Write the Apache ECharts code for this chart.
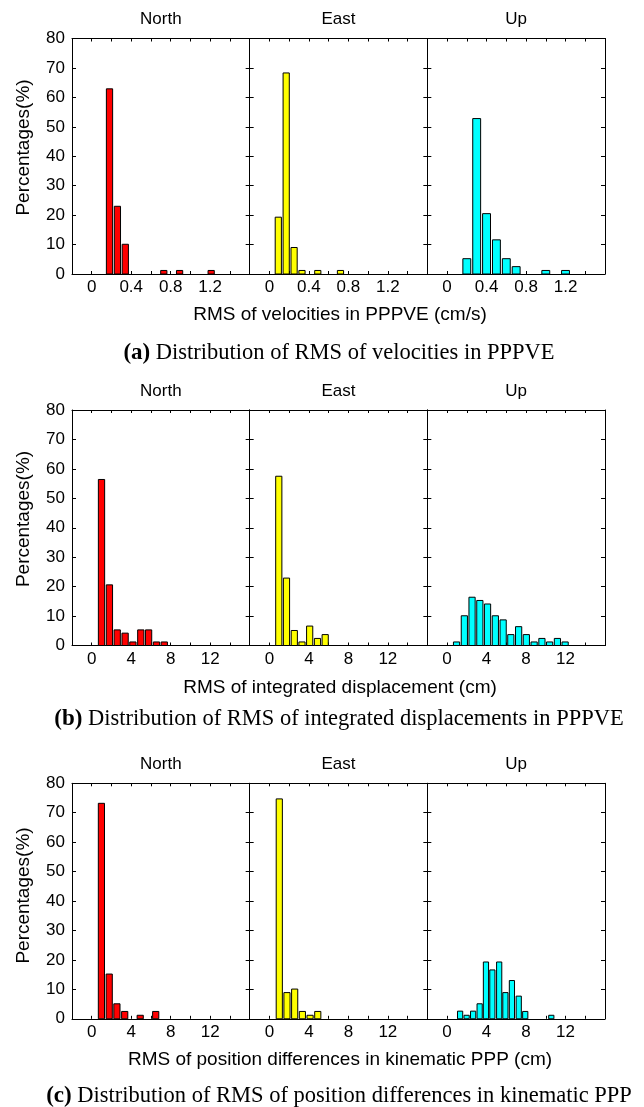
<!DOCTYPE html>
<html>
<head>
<meta charset="utf-8">
<script src="https://cdn.jsdelivr.net/npm/echarts@6/dist/echarts.min.js"></script>
<style>
  html, body { margin: 0; padding: 0; background: #fff; }
  #chart { width: 644px; height: 1107px; }
</style>
</head>
<body>
<div id="chart"></div>
<script>
// Histogram bins: [bin centre, percentage of stations]
// (a) RMS of velocities in PPPVE (cm/s)
const velNorth = [[0.18, 62.9], [0.26, 23.0], [0.34, 10.1], [0.73, 1.2], [0.89, 1.2], [1.21, 1.2]];
const velEast  = [[0.09, 19.3], [0.17, 68.3], [0.25, 9.0], [0.33, 1.2], [0.49, 1.2], [0.72, 1.2]];
const velUp    = [[0.2, 5.2], [0.3, 52.8], [0.4, 20.5], [0.5, 11.6], [0.6, 5.2], [0.7, 2.5], [1.0, 1.2], [1.2, 1.2]];

// (b) RMS of integrated displacement (cm)
const dispNorth = [[0.99, 56.4], [1.79, 20.6], [2.58, 5.3], [3.38, 4.2], [4.17, 1.2], [4.97, 5.3], [5.76, 5.3], [6.56, 1.2], [7.35, 1.2]];
const dispEast  = [[0.95, 57.5], [1.73, 22.9], [2.52, 5.1], [3.30, 1.2], [4.08, 6.6], [4.87, 2.4], [5.65, 3.7]];
const dispUp    = [[0.96, 1.2], [1.75, 10.1], [2.53, 16.4], [3.32, 15.3], [4.10, 14.1], [4.89, 10.1], [5.68, 8.7], [6.46, 3.7],
                   [7.25, 6.4], [8.03, 3.7], [8.82, 1.2], [9.61, 2.4], [10.39, 1.2], [11.18, 2.4], [11.96, 1.2]];

// (c) RMS of position differences in kinematic PPP (cm)
const posNorth = [[0.98, 73.2], [1.77, 15.2], [2.55, 5.1], [3.34, 2.5], [4.91, 1.2], [6.48, 2.5]];
const posEast  = [[1.0, 74.7], [1.78, 8.9], [2.56, 10.1], [3.34, 2.5], [4.12, 1.2], [4.9, 2.5]];
const posUp    = [[1.32, 2.6], [1.98, 1.2], [2.64, 2.6], [3.30, 5.1], [3.94, 19.3], [4.59, 16.6], [5.28, 19.3], [5.91, 8.9],
                  [6.57, 13.0], [7.26, 7.7], [7.92, 2.5], [10.56, 1.2]];

// Bin width of each histogram (same units as the x axis)
const binWidths = [[0.079, 0.0785, 0.1], [0.795, 0.783, 0.786], [0.785, 0.78, 0.66]];

const components = ['North', 'East', 'Up'];
const yName = 'Percentages(%)';
const xNames = [
  'RMS of velocities in PPPVE (cm/s)',
  'RMS of integrated displacement (cm)',
  'RMS of position differences in kinematic PPP (cm)'
];
const captionTags = ['(a)', '(b)', '(c)'];
const captionTexts = [
  ' Distribution of RMS of velocities in PPPVE',
  ' Distribution of RMS of integrated displacements in PPPVE',
  ' Distribution of RMS of position differences in kinematic PPP'
];
const yTickLabels = ['0', '10', '20', '30', '40', '50', '60', '70', '80'];
const xTickLabelsVel = ['0', '0.4', '0.8', '1.2'];
const xTickLabelsCm = ['0', '4', '8', '12'];

const rowsData = [[velNorth, velEast, velUp], [dispNorth, dispEast, dispUp], [posNorth, posEast, posUp]];
const rowTickLabels = [xTickLabelsVel, xTickLabelsCm, xTickLabelsCm];

// ---- layout ----
const SANS = '"Liberation Sans", Arial, sans-serif';
const SERIF = '"Liberation Serif", "Times New Roman", serif';
const barColors = ['#ff0000', '#ffff00', '#00ffff'];
const panelLeft = [72, 249.67, 427.33];
const panelW = 177.67;
const panelH = 235.5;
const rowTop = [38.5, 410, 783.3];
const rowRange = [
  { min: -0.2, max: 1.6, interval: 0.2, digits: 1 },
  { min: -2, max: 16, interval: 2, digits: 0 },
  { min: -2, max: 16, interval: 2, digits: 0 }
];
const titleY = [19.3, 391.7, 764];
const yNameY = [147.5, 519, 895.5];
const xNameY = [315, 687.5, 1060];
const captionY = [353.5, 719, 1096];

const grid = [], xAxis = [], yAxis = [], series = [], graphic = [];

function barRenderer(binW, color) {
  return function (params, api) {
    const xc = api.value(0), v = api.value(1);
    const half = binW * 0.4;
    const p0 = api.coord([xc - half, v]);
    const p1 = api.coord([xc + half, 0]);
    return {
      type: 'rect',
      shape: { x: p0[0], y: p0[1], width: p1[0] - p0[0], height: p1[1] - p0[1] },
      style: { fill: color, stroke: '#000', lineWidth: 1 }
    };
  };
}

// frame lines stay on the grid edges rather than crossing at zero
const axisLineStyle = { show: true, onZero: false, lineStyle: { color: '#000', width: 1 } };

for (let r = 0; r < 3; r++) {
  const rng = rowRange[r];
  const labels = rowTickLabels[r];
  for (let c = 0; c < 3; c++) {
    const g = grid.length;
    grid.push({ left: panelLeft[c], top: rowTop[r], width: panelW, height: panelH, containLabel: false });

    // bottom axis with labels
    xAxis.push({
      type: 'value', gridIndex: g, position: 'bottom',
      min: rng.min, max: rng.max, interval: rng.interval,
      axisLine: axisLineStyle,
      axisTick: { show: true, inside: true, length: 3, lineStyle: { color: '#000' } },
      splitLine: { show: false },
      axisLabel: {
        show: true, margin: 5, color: '#000', fontSize: 17, fontFamily: SANS,
        showMinLabel: true, showMaxLabel: true,
        formatter: function (v) {
          const s = String(Number(v.toFixed(rng.digits)));
          return labels.indexOf(s) >= 0 ? s : '';
        }
      }
    });
    // top frame with ticks only
    xAxis.push({
      type: 'value', gridIndex: g, position: 'top',
      min: rng.min, max: rng.max, interval: rng.interval,
      axisLine: axisLineStyle,
      axisTick: { show: true, inside: true, length: 3, lineStyle: { color: '#000' } },
      splitLine: { show: false },
      axisLabel: { show: false }
    });
    // left axis, labelled on the first panel only
    yAxis.push({
      type: 'value', gridIndex: g, position: 'left',
      min: 0, max: 80, interval: 10,
      axisLine: axisLineStyle,
      axisTick: { show: true, inside: true, length: 4, lineStyle: { color: '#000' } },
      splitLine: { show: false },
      axisLabel: {
        show: c === 0, margin: 7, color: '#000', fontSize: 17, fontFamily: SANS,
        formatter: function (v) {
          const s = String(Math.round(v));
          return yTickLabels.indexOf(s) >= 0 ? s : '';
        }
      }
    });
    // right frame with ticks only
    yAxis.push({
      type: 'value', gridIndex: g, position: 'right',
      min: 0, max: 80, interval: 10,
      axisLine: axisLineStyle,
      axisTick: { show: true, inside: true, length: 4, lineStyle: { color: '#000' } },
      splitLine: { show: false },
      axisLabel: { show: false }
    });

    series.push({
      type: 'custom',
      xAxisIndex: 2 * g,
      yAxisIndex: 2 * g,
      data: rowsData[r][c],
      renderItem: barRenderer(binWidths[r][c], barColors[c]),
      silent: true,
      animation: false
    });

    // panel title
    graphic.push({
      type: 'text', x: panelLeft[c] + panelW / 2, y: titleY[r],
      style: { text: components[c], font: '17px ' + SANS, fill: '#000',
               align: 'center', verticalAlign: 'middle', textAlign: 'center', textVerticalAlign: 'middle' }
    });
  }

  // y axis name
  graphic.push({
    type: 'text', x: 24, y: yNameY[r], rotation: Math.PI / 2,
    style: { text: yName, font: '19px ' + SANS, fill: '#000',
             align: 'center', verticalAlign: 'middle', textAlign: 'center', textVerticalAlign: 'middle' }
  });
  // x axis name
  graphic.push({
    type: 'text', x: 340, y: xNameY[r],
    style: { text: xNames[r], font: '19px ' + SANS, fill: '#000',
             align: 'center', verticalAlign: 'middle', textAlign: 'center', textVerticalAlign: 'middle' }
  });
  // sub-figure caption
  graphic.push({
    type: 'text', x: 339, y: captionY[r],
    style: {
      text: '{b|' + captionTags[r] + '}{n|' + captionTexts[r] + '}',
      font: '22.5px ' + SERIF, fill: '#000',
      align: 'center', verticalAlign: 'middle', textAlign: 'center', textVerticalAlign: 'middle',
      rich: {
        b: { font: 'bold 23px ' + SERIF, fill: '#000' },
        n: { font: '22.5px ' + SERIF, fill: '#000' }
      }
    }
  });
}

const chart = echarts.init(document.getElementById('chart'), null, { renderer: 'canvas' });
chart.setOption({
  backgroundColor: '#fff',
  animation: false,
  grid: grid,
  xAxis: xAxis,
  yAxis: yAxis,
  series: series,
  graphic: graphic
});
</script>
</body>
</html>
